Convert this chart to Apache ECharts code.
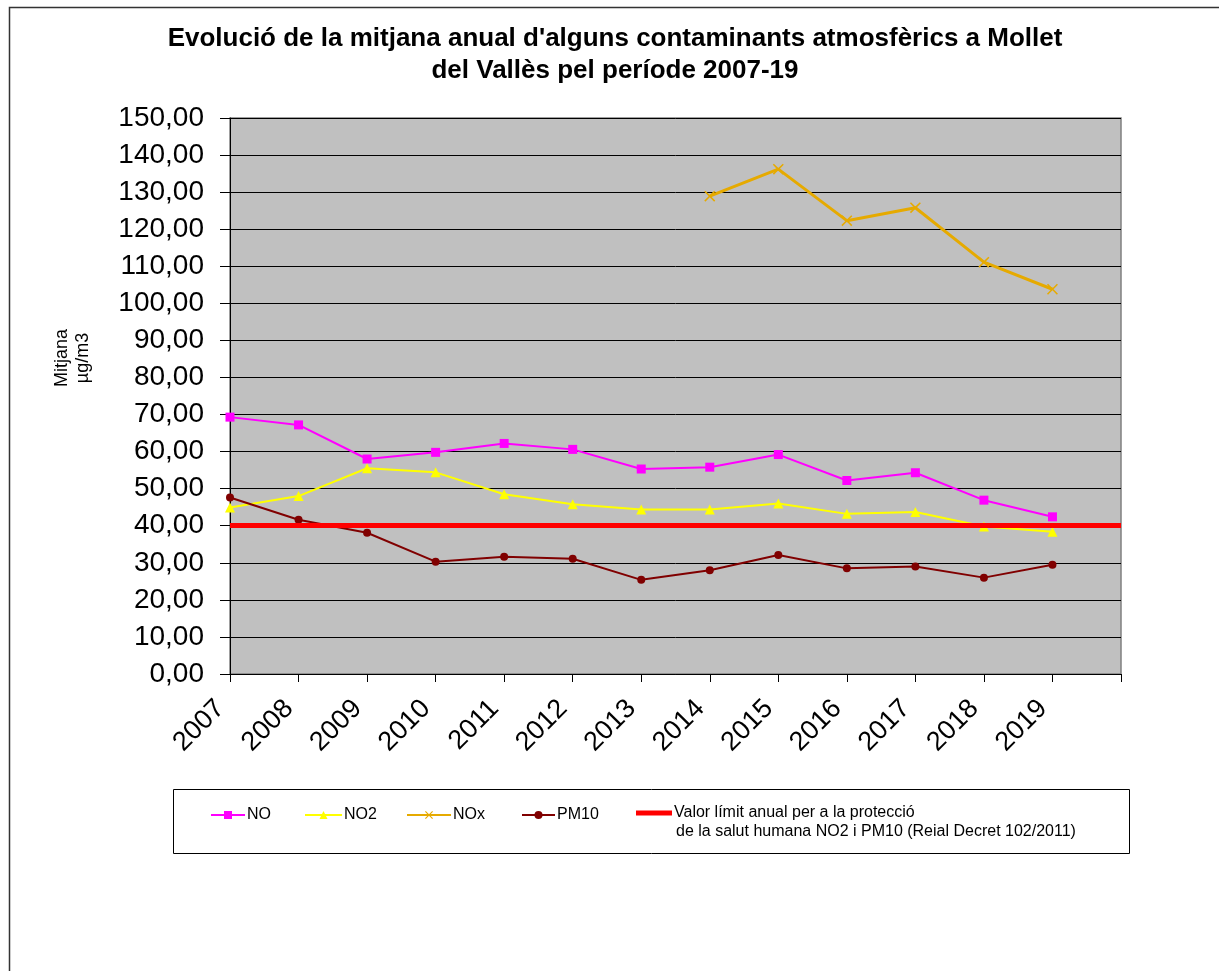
<!DOCTYPE html>
<html>
<head>
<meta charset="utf-8">
<script src="https://cdn.jsdelivr.net/npm/echarts@6/dist/echarts.min.js"></script>
<style>
  html, body { margin: 0; padding: 0; background: #fff; }
  #chart { width: 1219px; height: 971px; }
</style>
</head>
<body>
<div id="chart"></div>
<script>
// Annual averages (µg/m3) at Mollet del Vallès, 2007-2019
const years = ['2007', '2008', '2009', '2010', '2011', '2012', '2013', '2014', '2015', '2016', '2017', '2018', '2019', ''];
const seriesNO   = [69.3, 67.2, 58.0, 59.8, 62.2, 60.6, 55.3, 55.8, 59.2, 52.2, 54.3, 46.9, 42.4];
const seriesNO2  = [44.9, 48.0, 55.5, 54.4, 48.5, 45.8, 44.4, 44.4, 46.0, 43.2, 43.7, 39.8, 38.4];
const seriesNOx  = [null, null, null, null, null, null, null, 128.9, 136.2, 122.3, 125.8, 111.1, 103.8];
const seriesPM10 = [47.6, 41.6, 38.1, 30.3, 31.6, 31.1, 25.4, 28.0, 32.1, 28.5, 29.0, 26.0, 29.5];
const limitValue = 40;
const yTicks = { min: 0, max: 150, interval: 10 };

const titleText = "Evolució de la mitjana anual d'alguns contaminants atmosfèrics a Mollet\ndel Vallès pel període 2007-19";
const limitName = 'Valor límit anual per a la protecció';
const limitName2 = 'de la salut humana NO2 i PM10 (Reial Decret 102/2011)';

const FONT = '"Liberation Sans", Arial, sans-serif';
const xMarker = 'path://M0,1 L1,0 L5,4 L9,0 L10,1 L6,5 L10,9 L9,10 L5,6 L1,10 L0,9 L4,5 Z';

const chart = echarts.init(document.getElementById('chart'), null, { renderer: 'canvas' });

function legendAt(item, left, width, height, top) {
  const h = height || 10;
  return {
    data: [item],
    left: left,
    top: top !== undefined ? top : 812 - h / 2,
    padding: 0,
    itemWidth: width,
    itemHeight: h,
    itemGap: 0,
    selectedMode: false,
    textStyle: { fontFamily: FONT, fontSize: 16, color: '#000', padding: [0, 0, 0, -3] }
  };
}

chart.setOption({
  animation: false,
  backgroundColor: '#ffffff',
  textStyle: { fontFamily: FONT },
  graphic: [
    // page frame
    { type: 'polyline', shape: { points: [[9.5, 980], [9.5, 7.5], [1230, 7.5]] },
      style: { stroke: '#333', lineWidth: 1.5, fill: null }, silent: true },
    // title
    { type: 'text', x: 615, y: 55, silent: true,
      style: { text: titleText, font: 'bold 26px ' + FONT, fill: '#000',
               align: 'center', verticalAlign: 'middle', lineHeight: 32 } },
    // y axis caption
    { type: 'text', x: 73, y: 358, rotation: Math.PI / 2, silent: true,
      style: { text: 'Mitjana\nµg/m3', font: '18px ' + FONT, fill: '#000',
               align: 'center', verticalAlign: 'middle', lineHeight: 21 } },
    // legend frame
    { type: 'rect', shape: { x: 173.5, y: 789.5, width: 956, height: 64 }, silent: true,
      style: { stroke: '#000', lineWidth: 1, fill: null } },
    // second line of the limit legend entry
    { type: 'text', x: 676, y: 832, silent: true,
      style: { text: limitName2, font: '16px ' + FONT, fill: '#000',
               align: 'left', verticalAlign: 'middle' } }
  ],
  legend: [
    legendAt('NO', 210, 34),
    legendAt('NO2', 304, 37),
    legendAt('NOx', 406, 44),
    legendAt('PM10', 521, 33),
    legendAt({ name: limitName, icon: 'rect' }, 636, 36, 5, 805)
  ],
  grid: {
    left: 230, right: 98, top: 118, bottom: 297,
    show: true, backgroundColor: '#c0c0c0', borderColor: '#808080', borderWidth: 1.5
  },
  xAxis: {
    type: 'category',
    data: years,
    boundaryGap: false,
    axisLine: { show: true, lineStyle: { color: '#000', width: 1 } },
    axisTick: { show: true, inside: false, length: 8, interval: 0, lineStyle: { color: '#000' } },
    axisLabel: {
      interval: 0, rotate: 45, margin: 40, color: '#000',
      fontFamily: FONT, fontSize: 27, align: 'right', verticalAlign: 'bottom'
    },
    splitLine: { show: false }
  },
  yAxis: {
    type: 'value',
    min: yTicks.min, max: yTicks.max, interval: yTicks.interval,
    axisLine: { show: true, lineStyle: { color: '#000', width: 1 } },
    axisTick: { show: true, inside: false, length: 10, lineStyle: { color: '#000' } },
    axisLabel: {
      margin: 26, color: '#000', fontFamily: FONT, fontSize: 28,
      formatter: v => v.toFixed(2).replace('.', ',')
    },
    splitLine: { show: true, lineStyle: { color: '#000', width: 1 } }
  },
  series: [
    {
      name: 'NO', type: 'line', data: seriesNO,
      symbol: 'rect', symbolSize: 9, showAllSymbol: true,
      itemStyle: { color: '#ff00ff' }, lineStyle: { color: '#ff00ff', width: 2 }
    },
    {
      name: 'NO2', type: 'line', data: seriesNO2,
      symbol: 'triangle', symbolSize: 10, showAllSymbol: true,
      itemStyle: { color: '#ffff00' }, lineStyle: { color: '#ffff00', width: 2 }
    },
    {
      name: 'NOx', type: 'line', data: seriesNOx,
      symbol: xMarker, symbolSize: 11, showAllSymbol: true,
      itemStyle: { color: '#e6aa00' }, lineStyle: { color: '#e6aa00', width: 3 }
    },
    {
      name: 'PM10', type: 'line', data: seriesPM10,
      symbol: 'circle', symbolSize: 8, showAllSymbol: true,
      itemStyle: { color: '#800000' }, lineStyle: { color: '#800000', width: 2 }
    },
    {
      name: limitName, type: 'line', data: [],
      symbol: 'none',
      itemStyle: { color: '#ff0000' }, lineStyle: { color: '#ff0000', width: 5 },
      markLine: {
        silent: true, symbol: 'none', label: { show: false },
        lineStyle: { color: '#ff0000', width: 5, type: 'solid' },
        data: [{ yAxis: limitValue }]
      }
    }
  ]
});
</script>
</body>
</html>
